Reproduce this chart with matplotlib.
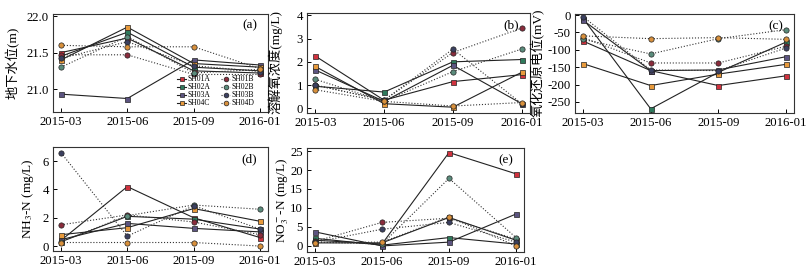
import numpy as np
import matplotlib
matplotlib.use("Agg")
import matplotlib.pyplot as plt

plt.rcParams['font.family'] = ['Liberation Serif', 'Noto Sans CJK SC', 'DejaVu Sans']
plt.rcParams['mathtext.fontset'] = 'stix'
plt.rcParams['axes.unicode_minus'] = False

dates = ['2015-03', '2015-06', '2015-09', '2016-01']
wells = ['SH01A', 'SH02A', 'SH03A', 'SH04C', 'SH01B', 'SH02B', 'SH03B', 'SH04D']

# groundwater level (m)
level = {
    'SH01A': [21.50, 21.70, 21.25, 21.22],
    'SH02A': [21.45, 21.78, 21.30, 21.25],
    'SH03A': [20.93, 20.87, 21.40, 21.33],
    'SH04C': [21.40, 21.85, 21.35, 21.30],
    'SH01B': [21.47, 21.47, 21.20, 21.20],
    'SH02B': [21.30, 21.72, 21.22, 21.27],
    'SH03B': [21.42, 21.65, 21.32, 21.24],
    'SH04D': [21.60, 21.58, 21.58, 21.28],
}
# dissolved oxygen (mg/L)
do = {
    'SH01A': [2.25, 0.35, 1.15, 1.45],
    'SH02A': [0.95, 0.70, 2.00, 2.10],
    'SH03A': [1.65, 0.30, 1.85, 0.20],
    'SH04C': [1.80, 0.20, 0.05, 1.55],
    'SH01B': [1.00, 0.35, 2.40, 3.45],
    'SH02B': [1.25, 0.30, 1.58, 2.55],
    'SH03B': [1.00, 0.35, 2.55, 0.20],
    'SH04D': [0.80, 0.30, 0.10, 0.25],
}
# redox potential (mV)
orp = {
    'SH01A': [-75, -160, -203, -175],
    'SH02A': [-10, -270, -165, -78],
    'SH03A': [-15, -160, -158, -120],
    'SH04C': [-140, -203, -170, -142],
    'SH01B': [-65, -138, -138, -90],
    'SH02B': [-70, -112, -68, -42],
    'SH03B': [-5, -158, -160, -95],
    'SH04D': [-60, -68, -65, -70],
}
# NH3-N (mg/L)
nh = {
    'SH01A': [0.40, 4.20, 2.00, 0.60],
    'SH02A': [0.30, 2.10, 1.90, 1.20],
    'SH03A': [0.45, 1.60, 1.25, 1.00],
    'SH04C': [0.80, 1.30, 2.65, 1.75],
    'SH01B': [1.50, 2.20, 1.70, 0.80],
    'SH02B': [0.30, 2.15, 2.90, 2.60],
    'SH03B': [6.60, 0.70, 2.85, 1.20],
    'SH04D': [0.25, 0.25, 0.25, 0.00],
}
# NO3-N (mg/L)
no3 = {
    'SH01A': [1.5, 0.5, 24.6, 19.0],
    'SH02A': [2.0, 0.2, 2.2, 0.5],
    'SH03A': [3.7, 0.0, 1.0, 8.4],
    'SH04C': [0.8, 0.8, 7.5, 1.5],
    'SH01B': [1.2, 6.2, 7.3, 1.8],
    'SH02B': [1.0, 0.5, 17.8, 2.2],
    'SH03B': [1.0, 4.4, 6.2, 1.0],
    'SH04D': [0.9, 1.0, 7.6, 0.0],
}

colors = {
    'SH01A': '#d0323e', 'SH02A': '#2f7a5c', 'SH03A': '#5c5480', 'SH04C': '#e89a3c',
    'SH01B': '#8a2c3c', 'SH02B': '#5b8c7c', 'SH03B': '#3b4060', 'SH04D': '#d8903c',
}

fig = plt.figure(figsize=(8.07, 2.73), dpi=100)
W, H = 807.0, 273.0

def box(x0, x1, y0, y1):
    return [x0 / W, (H - y1) / H, (x1 - x0) / W, (y1 - y0) / H]

# data, axes box (px), ylim, yticks, ylabel, label centre (px), tag
panels = [
    (level, box(53, 268, 14, 112), (20.685, 22.03), [21.0, 21.5, 22.0], '地下水位(m)', (13, 63), '(a)'),
    (do, box(307, 530, 13, 113), (-0.2, 4.1), [0, 1, 2, 3, 4], '溶解氧浓度(mg/L)', (275, 62), '(b)'),
    (orp, box(575, 794, 14, 113), (-282, 3), [0, -50, -100, -150, -200, -250], '氧化还原电位(mV)', (538, 63), '(c)'),
    (nh, box(53, 268, 147, 251), (-0.35, 7.0), [0, 2, 4, 6], 'NH$_3$-N (mg/L)', (28, 199), '(d)'),
    (no3, box(307, 524, 148, 252), (-1.6, 25.8), [0, 5, 10, 15, 20, 25], 'NO$_3^-$-N (mg/L)', (283, 200), '(e)'),
]

x = np.arange(len(dates))
for i, (data, pos, ylim, yt, ylab, lc, tag) in enumerate(panels):
    ax = fig.add_axes(pos)
    for w in wells:
        if w[-1] in 'AC':
            ax.plot(x, data[w], '-', color='#222222', lw=0.8, marker='s', ms=3.6,
                    mfc=colors[w], mec='#222222', mew=0.5, label=w)
        else:
            ax.plot(x, data[w], ':', color='#333333', lw=0.8, marker='o', ms=3.8,
                    mfc=colors[w], mec='#222222', mew=0.5, label=w)
    ax.set_xlim(-0.12, 3.12)
    ax.set_ylim(*ylim)
    ax.set_xticks(x)
    ax.set_xticklabels(dates)
    ax.set_yticks(yt)
    if i == 0:
        ax.set_yticklabels(['21.0', '21.5', '22.0'])
    ax.tick_params(direction='in', length=3, width=0.7, labelsize=9.2, pad=3)
    for s in ax.spines.values():
        s.set_color('#333333')
        s.set_linewidth(0.8)
    ax.set_ylabel(ylab, fontsize=9.5, va='center', ha='center')
    ax.yaxis.set_label_coords(lc[0] / W, 1 - lc[1] / H, transform=fig.transFigure)
    ax.text(0.95, 0.88, tag, transform=ax.transAxes, ha='right', va='center', fontsize=9.5)
    if i == 0:
        ax.legend(ncol=2, loc='lower right', bbox_to_anchor=(0.96, 0.0), frameon=False,
                  fontsize=5.5, labelspacing=0.0, handlelength=1.2, handletextpad=0.2,
                  columnspacing=1.4, borderpad=0.1, markerscale=0.9)

fig.savefig('out.png', dpi=100)
